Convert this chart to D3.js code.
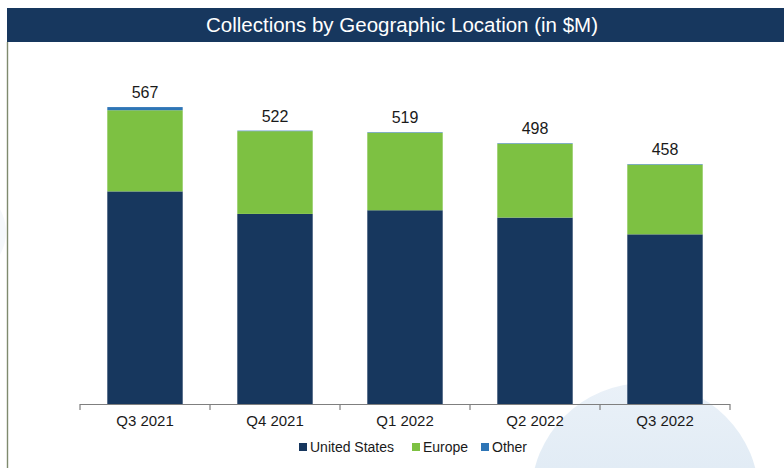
<!DOCTYPE html>
<html>
<head>
<meta charset="utf-8">
<script src="https://cdn.jsdelivr.net/npm/d3@7"></script>
<style>
  body { margin: 0; background: #fff; }
  svg { display: block; font-family: "Liberation Sans", Arial, sans-serif; }
</style>
</head>
<body>
<svg id="chart" width="784" height="468"></svg>
<script>
// chart data (in $M)
var quarters = ['Q3 2021', 'Q4 2021', 'Q1 2022', 'Q2 2022', 'Q3 2022'];
var unitedStates = [406, 363, 370, 356, 324];
var europe = [155, 158, 148, 141, 133];
var other = [6, 1, 1, 1, 1];
var totals = [567, 522, 519, 498, 458];
var seriesNames = ['United States', 'Europe', 'Other'];
var seriesColors = ['#17375e', '#7dc142', '#2e75b6'];

var width = 784, height = 468;
var margin = { left: 80, right: 54, top: 90, bottom: 64 };

var svg = d3.select('#chart');

// soft background circle, lighter at the top
var grad = svg.append('defs').append('linearGradient')
    .attr('id', 'circleGrad')
    .attr('x1', 0).attr('y1', 0).attr('x2', 0).attr('y2', 1);
grad.append('stop').attr('offset', '0%').attr('stop-color', '#eaf1f8');
grad.append('stop').attr('offset', '50%').attr('stop-color', '#dfeaf4');

svg.append('circle')
    .attr('cx', 645).attr('cy', 497).attr('r', 114)
    .attr('fill', 'url(#circleGrad)');
svg.append('circle')
    .attr('cx', -40).attr('cy', 232).attr('r', 46)
    .attr('fill', '#f5f8fb');

// left border of the body
svg.append('line')
    .attr('x1', 7.5).attr('x2', 7.5)
    .attr('y1', 42).attr('y2', height)
    .attr('stroke', '#7f8a6e').attr('stroke-width', 1.4);

// header band
svg.append('rect')
    .attr('x', 7).attr('y', 8)
    .attr('width', width - 7).attr('height', 34)
    .attr('fill', '#17375e');
svg.append('text')
    .attr('x', 402).attr('y', 32)
    .attr('text-anchor', 'middle')
    .attr('fill', '#ffffff')
    .style('font-size', '20.5px')
    .text('Collections by Geographic Location (in $M)');

// rows for the stack
var rows = quarters.map(function (q, i) {
    return { quarter: q, 'United States': unitedStates[i], 'Europe': europe[i], 'Other': other[i], total: totals[i] };
});
var stacked = d3.stack().keys(seriesNames)(rows);

var x = d3.scaleBand()
    .domain(quarters)
    .range([margin.left, width - margin.right])
    .paddingInner(0.42)
    .paddingOuter(0.21);

var y = d3.scaleLinear()
    .domain([0, 600])
    .range([404, 89.8]);

// bars
var layers = svg.append('g').selectAll('g')
    .data(stacked)
    .enter().append('g')
    .attr('fill', function (d, i) { return seriesColors[i]; });

layers.selectAll('rect')
    .data(function (d) { return d; })
    .enter().append('rect')
    .attr('x', function (d) { return x(d.data.quarter); })
    .attr('y', function (d) { return y(d[1]); })
    .attr('height', function (d) { return y(d[0]) - y(d[1]); })
    .attr('width', x.bandwidth());

// total labels
svg.append('g').selectAll('text')
    .data(rows)
    .enter().append('text')
    .attr('x', function (d) { return x(d.quarter) + x.bandwidth() / 2; })
    .attr('y', function (d) { return y(d.total) - 9; })
    .attr('text-anchor', 'middle')
    .attr('fill', '#1a1a1a')
    .style('font-size', '16px')
    .text(function (d) { return d.total; });

// x axis with ticks between categories
var axisG = svg.append('g');
axisG.append('line')
    .attr('x1', margin.left).attr('x2', width - margin.right)
    .attr('y1', 404.5).attr('y2', 404.5)
    .attr('stroke', '#7f7f7f').attr('stroke-width', 1.2);
var step = x.step();
var tickXs = d3.range(quarters.length + 1).map(function (i) {
    return margin.left + i * step;
});
axisG.selectAll('.tick')
    .data(tickXs)
    .enter().append('line')
    .attr('x1', function (d) { return d; }).attr('x2', function (d) { return d; })
    .attr('y1', 404).attr('y2', 410)
    .attr('stroke', '#7f7f7f').attr('stroke-width', 1.2);
axisG.selectAll('text')
    .data(quarters)
    .enter().append('text')
    .attr('x', function (d) { return x(d) + x.bandwidth() / 2; })
    .attr('y', 426)
    .attr('text-anchor', 'middle')
    .attr('fill', '#1a1a1a')
    .style('font-size', '15px')
    .text(function (d) { return d; });

// legend
var legendX = [299, 412, 481];
var legend = svg.append('g').selectAll('g')
    .data(seriesNames)
    .enter().append('g')
    .attr('transform', function (d, i) { return 'translate(' + legendX[i] + ',447)'; });
legend.append('rect')
    .attr('x', 0).attr('y', -4)
    .attr('width', 8).attr('height', 8)
    .attr('fill', function (d, i) { return seriesColors[i]; });
legend.append('text')
    .attr('x', 11).attr('y', 5)
    .attr('fill', '#1a1a1a')
    .style('font-size', '14px')
    .text(function (d) { return d; });
</script>
</body>
</html>
